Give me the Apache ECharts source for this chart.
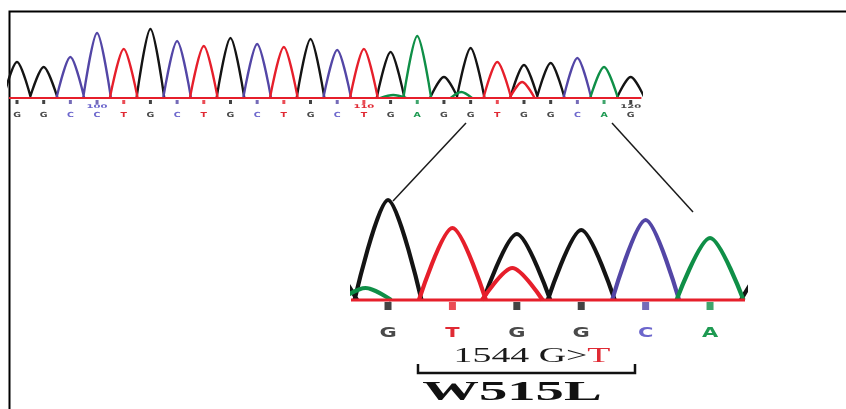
<!DOCTYPE html>
<html><head><meta charset="utf-8">
<script src="https://cdn.jsdelivr.net/npm/echarts@6/dist/echarts.min.js"></script>
<style>html,body{margin:0;padding:0;background:#fff}#c{width:846px;height:409px}</style>
</head><body><div id="c"></div>
<script>
// ---- data ----
const bases = ['G','G','C','C','T','G','C','T','G','C','T','G','C','T','G','A','G','G','T','G','G','C','A','G'];
const peakHeights = [36,31,41,65,49,69,57,52,60,54,51,59,48,49,46,62,21,50,36,33,35,40,31,21];
// secondary / minor peaks: [position, base, height, half width]
const minorPeaks = [[14.1,'A',3,0.5],[16.65,'A',6,0.4],[18.93,'T',16,0.47]];
const positionMarks = [[3,'100'],[13,'110'],[23,'120']];
const zoomFirst = 17, zoomLast = 22;
const mutationText = ['1544 G>', 'T'];
const proteinChange = 'W515L';

// ---- view settings ----
const peakHalfWidth = 0.52;
const topRange = [-0.3, 23.4];
const zoomRange = [16.45, 22.543];
const zoomBaseline = [16.363, 22.543];
const traceColor = {G:'#141414', C:'#5346a6', T:'#e61f2b', A:'#0f8f47'};
const labelColor = {G:'#4a4a4a', C:'#6c66cc', T:'#e02a34', A:'#1e9a52'};

function channelData(ch) {
  const out = [];
  const add = (p, h, w) => { out.push([p - w, 0], [p, h], [p + w, 0], [p + w, '-']); };
  bases.forEach((b, i) => { if (b === ch) add(i, peakHeights[i], peakHalfWidth); });
  minorPeaks.forEach(m => { if (m[1] === ch) add(m[0], m[2], m[3]); });
  return out;
}

const zoomIdx = [];
for (let i = zoomFirst; i <= zoomLast; i++) zoomIdx.push(i);

const series = [];
const channels = ['G','C','A','T'];
[[0, 2.3], [1, 4.2]].forEach(([g, lw]) => {
  channels.forEach(ch => {
    series.push({
      type:'line', xAxisIndex:g, yAxisIndex:g, data:channelData(ch), symbol:'none',
      smooth:0.3, connectNulls:false, clip:true, silent:true,
      lineStyle:{color:traceColor[ch], width:lw}, z:2
    });
  });
  const rng = g === 0 ? topRange : zoomBaseline;
  series.push({type:'line', xAxisIndex:g, yAxisIndex:g, data:[[rng[0],0],[rng[1],0]], symbol:'none', clip:false,
    lineStyle:{color:'#e61f2b', width:g === 0 ? 2 : 3}, z:3, silent:true});
});

// tick squares
series.push({type:'scatter', xAxisIndex:0, yAxisIndex:0, symbol:'rect', symbolSize:[3,4], symbolOffset:[0,4], z:4, silent:true,
  data:bases.map((b,i)=>({value:[i,0], itemStyle:{color:traceColor[b]}}))});
series.push({type:'scatter', xAxisIndex:1, yAxisIndex:1, symbol:'rect', symbolSize:[7,8], symbolOffset:[0,6], z:4, silent:true,
  data:zoomIdx.map(i=>({value:[i,0], itemStyle:{color:traceColor[bases[i]]}}))});

function textRenderer(offsetY, font, scaleX, textOf, colorOf) {
  return function(params, api) {
    const x = api.value(0);
    const p = api.coord([x, 0]);
    return {type:'text', x:p[0], y:p[1] + offsetY, scaleX:scaleX,
      style:{text:textOf(params.dataIndex, x), fill:colorOf(params.dataIndex, x), font:font, align:'center', verticalAlign:'middle'}};
  };
}
series.push({type:'custom', xAxisIndex:0, yAxisIndex:0, silent:true, data:bases.map((b,i)=>[i,0]),
  renderItem:textRenderer(17, 'bold 7px "DejaVu Sans"', 1.35, (d,x)=>bases[x], (d,x)=>labelColor[bases[x]])});
series.push({type:'custom', xAxisIndex:0, yAxisIndex:0, silent:true, data:positionMarks.map(m=>[m[0],0]),
  renderItem:textRenderer(9, 'bold 5px "DejaVu Sans"', 2.0, (d)=>positionMarks[d][1], (d,x)=>labelColor[bases[x]])});
series.push({type:'custom', xAxisIndex:1, yAxisIndex:1, silent:true, data:zoomIdx.map(i=>[i,0]),
  renderItem:textRenderer(33, 'bold 14px "DejaVu Sans"', 1.5, (d,x)=>bases[x], (d,x)=>labelColor[bases[x]])});

const option = {
  animation:false,
  backgroundColor:'#fff',
  grid:[
    {left:9, top:23, width:632.4, height:75},
    {left:352.6, top:150, width:392.4, height:150}
  ],
  xAxis:[
    {type:'value', gridIndex:0, min:topRange[0], max:topRange[1], show:false},
    {type:'value', gridIndex:1, min:zoomRange[0], max:zoomRange[1], show:false}
  ],
  yAxis:[
    {type:'value', gridIndex:0, min:0, max:75, show:false},
    {type:'value', gridIndex:1, min:0, max:75, show:false}
  ],
  series:series,
  graphic:[
    {type:'polyline', silent:true, shape:{points:[[9.5,409],[9.5,11.5],[846,11.5]]}, style:{stroke:'#000', lineWidth:2, fill:null}},
    {type:'line', silent:true, shape:{x1:466,y1:123,x2:393,y2:201}, style:{stroke:'#1a1a1a', lineWidth:1.5}},
    {type:'line', silent:true, shape:{x1:612,y1:123,x2:693,y2:212}, style:{stroke:'#1a1a1a', lineWidth:1.5}},
    {type:'polyline', silent:true, shape:{points:[[418,364],[418,373],[635,373],[635,364]]}, style:{stroke:'#111', lineWidth:2.5, fill:null}},
    {type:'text', silent:true, x:532, y:356, scaleX:1.8,
      style:{text:'{a|' + mutationText[0] + '}{b|' + mutationText[1] + '}', align:'center', verticalAlign:'middle',
        rich:{a:{font:'21px "Liberation Serif"', fill:'#1a1a1a'}, b:{font:'21px "Liberation Serif"', fill:'#e02a34'}}}},
    {type:'text', silent:true, x:512, y:393, scaleX:2.1,
      style:{text:proteinChange, font:'bold 27px "Liberation Serif"', fill:'#111', align:'center', verticalAlign:'middle'}}
  ]
};
const chart = echarts.init(document.getElementById('c'), null, {renderer:'canvas'});
chart.setOption(option);
</script></body></html>
